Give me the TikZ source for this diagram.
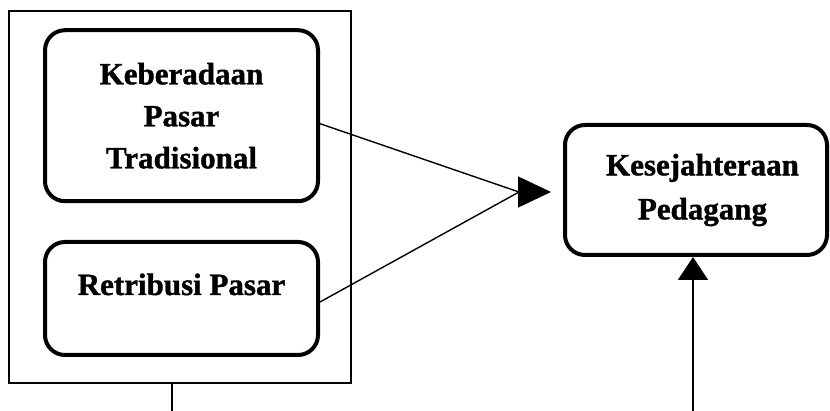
\documentclass[tikz,border=0pt]{standalone}
\usepackage{fontspec}
\setmainfont{Liberation Serif}[BoldFont={Liberation Serif Bold},BoldFeatures={FakeBold=1.2}]
\usetikzlibrary{arrows.meta}
\begin{document}
\begin{tikzpicture}[x=1pt,y=-1pt,
  thinline/.style={line width=1.4pt},
  varbox/.style={draw,line width=4pt,rounded corners=20pt,align=center,
    font=\bfseries\fontsize{31}{42}\selectfont,inner sep=0pt},
  bigtip/.style={-{Triangle[length=33pt,width=31pt]}},
  uptip/.style={-{Triangle[length=23pt,width=30pt]}}]
\useasboundingbox (0,0) rectangle (830,411);
\node[draw,thinline,minimum width=342pt,minimum height=372pt,inner sep=0pt] (outer) at (180,197) {};
\node[varbox,minimum width=273pt,minimum height=171pt] (b1) at (181.5,115.7) {Keberadaan\\Pasar\\Tradisional};
\node[varbox,minimum width=273pt,minimum height=113pt,text height=20pt,text depth=27pt] (b2) at (181.5,298.5) {Retribusi Pasar};
\node[varbox,minimum width=262pt,minimum height=130pt,font=\bfseries\fontsize{31}{44}\selectfont] (k) at (696,190) {\hspace*{13pt}Kesejahteraan\\\hspace*{13pt}Pedagang};
\coordinate (hb) at (519,192);
\coordinate (tip) at (551,192);
\draw[thinline] ([yshift=-8pt]b1.east) -- (hb);
\draw[thinline] ([yshift=-3.5pt]b2.east) -- (hb);
\draw[thinline,bigtip] (hb) -- (tip);
\coordinate (e1) at (172,411);
\coordinate (e2) at (693,411);
\draw[thinline] (outer.south -| e1) -- (e1);
\draw[thinline,uptip] (e2) -- (e2 |- k.south);
\end{tikzpicture}
\end{document}
